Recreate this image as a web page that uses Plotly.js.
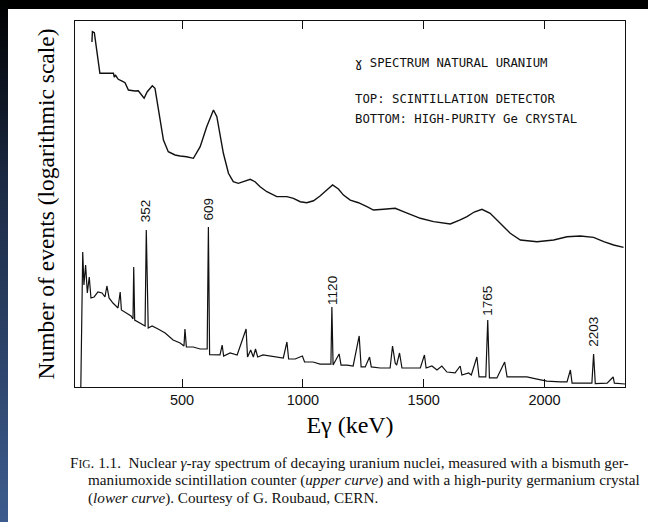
<!DOCTYPE html>
<html>
<head>
<meta charset="utf-8">
<script src="https://cdn.plot.ly/plotly-3.0.1.min.js"></script>
<style>
  html, body { margin:0; padding:0; background:#fff; }
  #wrap { position:relative; width:648px; height:522px; background:#fff; overflow:hidden; }
  #bandTop { position:absolute; left:0; top:0; width:648px; height:9px; background:#000; }
  #bandLeft { position:absolute; left:0; top:0; width:8px; height:522px; background:linear-gradient(#000 0%, #1c2a44 35%, #3d5c8e 100%); }
  #chart { position:absolute; left:0; top:0; width:648px; height:522px; }
</style>
</head>
<body>
<div id="wrap">
  <div id="bandTop"></div>
  <div id="bandLeft"></div>
  <div id="chart"></div>
</div>
<script>
// Upper curve: BGO scintillation detector (energy keV, counts, log scale)
const scintEnergy = [127,129,137,160,216,220,224,236,250,264,278,292,305,319,333,343,356,377,388,398,409,423,443,471,492,519,547,575,602,630,644,657,671,692,712,733,754,782,802,823,851,892,934,961,989,1016,1044,1071,1099,1123,1147,1168,1196,1230,1265,1292,1334,1382,1416,1486,1541,1610,1651,1679,1709,1741,1775,1817,1858,1900,1969,2038,2093,2148,2203,2245,2286,2327];
const scintCounts = [453000,668000,643000,139000,139000,119400,130200,110800,103900,97400,73900,72000,71200,72000,61200,54100,69300,87000,78800,44700,23800,11200,7200,6360,6120,5960,5610,8700,18500,34800,27000,14400,6780,3190,2320,2180,2320,2540,2320,1920,1590,1320,1320,1240,1090,1050,1130,1350,1700,2050,1760,1400,1160,1050,903,797,819,850,748,583,513,470,547,619,739,819,704,483,331,257,241,257,291,299,284,241,213,195];

// Lower curve: high-purity Ge crystal
const geEnergy = [80,89,94,101,108,116,123,136,152,169,181,189,198,214,235,244,249,272,289,297,300,304,326,347,352,360,376,388,401,430,463,492,508,512,518,546,575,604,609,614,657,666,672,699,728,765,771,784,795,804,813,835,893,919,934,941,968,998,1007,1042,1071,1100,1116,1120,1125,1150,1158,1183,1208,1233,1241,1258,1276,1283,1320,1361,1371,1382,1388,1400,1410,1486,1503,1510,1534,1555,1575,1596,1630,1651,1658,1686,1697,1720,1729,1757,1765,1772,1803,1835,1845,1886,1927,1969,2010,2065,2093,2107,2114,2176,2196,2203,2210,2259,2284,2289,2333];
const geCounts = [0.5,163,47,100,34.8,63.6,28.8,29.9,36.1,34.8,29.9,45.3,28.8,23.8,19.7,36.1,18.3,16.3,14.6,13.0,92.7,12.5,11.2,10.0,375,9.27,10.0,9.6,8.93,7.68,5.89,5.26,4.70,8.93,4.53,4.53,4.20,4.20,420,3.40,3.35,4.88,3.22,3.61,3.35,8.93,3.10,4.04,3.10,4.20,3.10,3.35,3.10,2.99,5.47,2.88,2.88,3.22,2.57,2.57,2.38,2.38,2.38,20.5,2.29,3.48,2.29,2.29,2.21,6.86,2.13,2.13,3.10,2.13,2.05,2.05,4.70,2.47,2.29,3.61,2.05,2.05,3.35,2.05,2.21,1.90,2.21,1.76,1.70,2.21,1.57,1.70,1.57,3.10,1.46,1.46,12.5,1.41,1.41,2.57,1.46,1.46,1.46,1.35,1.25,1.21,1.21,1.90,1.16,1.16,1.16,3.48,1.14,1.16,1.46,1.16,1.12];

// Labelled peaks
const peakEnergies = [352, 609, 1120, 1765, 2203];
const peakLabels = ['352', '609', '1120', '1765', '2203'];
const peakLabelY = [0.481, 0.486, 0.265, 0.235, 0.150];

const xTicks = [500, 1000, 1500, 2000];
const xTickText = ['500', '1000', '1500', '2000'];

const infoLines = ['\u0263 SPECTRUM NATURAL URANIUM', 'TOP: SCINTILLATION DETECTOR', 'BOTTOM: HIGH-PURITY Ge CRYSTAL'];
const infoY = [0.885, 0.787, 0.732];

const captionLines = [
  'F<span style="font-size:11.5px">IG</span>. 1.1.  Nuclear <i>\u03b3</i>-ray spectrum of decaying uranium nuclei, measured with a bismuth ger-',
  'maniumoxide scintillation counter (<i>upper curve</i>) and with a high-purity germanium crystal',
  '(<i>lower curve</i>). Courtesy of G. Roubaud, CERN.'
];
const captionX = [-0.013, 0.02, 0.02];
const captionY = [-0.205, -0.254, -0.303];

const traces = [
  { x: scintEnergy, y: scintCounts, type: 'scatter', mode: 'lines', name: 'Scintillation detector',
    line: { color: '#111', width: 1.4 }, hoverinfo: 'skip' },
  { x: geEnergy, y: geCounts, type: 'scatter', mode: 'lines', name: 'High-purity Ge crystal',
    line: { color: '#111', width: 1.2 }, hoverinfo: 'skip' }
];

const annotations = [];
peakEnergies.forEach((e, i) => {
  annotations.push({ x: e, xref: 'x', y: peakLabelY[i], yref: 'paper', text: peakLabels[i],
    textangle: -90, showarrow: false, xanchor: 'center', yanchor: 'middle',
    font: { family: 'Liberation Sans, Arial, sans-serif', size: 13.5, color: '#111' } });
});
infoLines.forEach((t, i) => {
  annotations.push({ x: 0.5055, xref: 'paper', y: infoY[i], yref: 'paper', text: t,
    showarrow: false, xanchor: 'left', yanchor: 'middle',
    font: { family: 'DejaVu Sans Mono, monospace', size: 12.3, color: '#111' } });
});
captionLines.forEach((t, i) => {
  annotations.push({ x: captionX[i], xref: 'paper', y: captionY[i], yref: 'paper', text: t,
    showarrow: false, xanchor: 'left', yanchor: 'middle',
    font: { family: 'Liberation Serif, Times New Roman, serif', size: 15.2, color: '#111' } });
});

const layout = {
  width: 648, height: 522,
  margin: { l: 75, r: 23, t: 21, b: 135 },
  paper_bgcolor: 'rgba(0,0,0,0)',
  plot_bgcolor: '#fff',
  showlegend: false,
  xaxis: {
    range: [57, 2333], tickvals: xTicks, ticktext: xTickText,
    ticks: 'inside', ticklen: 8, tickwidth: 1, tickcolor: '#111',
    showline: true, linecolor: '#111', linewidth: 1, mirror: 'ticks',
    showgrid: false, zeroline: false,
    tickfont: { family: 'Liberation Sans, Arial, sans-serif', size: 14.5, color: '#111' },
    title: { text: 'E\u03b3 (keV)', standoff: 8,
      font: { family: 'Liberation Serif, Times New Roman, serif', size: 24, color: '#000' } }
  },
  yaxis: {
    type: 'log', range: [0, 6], showticklabels: false, ticks: '',
    showline: true, linecolor: '#111', linewidth: 1, mirror: true,
    showgrid: false, zeroline: false,
    title: { text: 'Number of events (logarithmic scale)', standoff: 12,
      font: { family: 'Liberation Serif, Times New Roman, serif', size: 23.5, color: '#000' } }
  },
  annotations: annotations
};

Plotly.newPlot('chart', traces, layout, { staticPlot: true, displayModeBar: false });
</script>
</body>
</html>
